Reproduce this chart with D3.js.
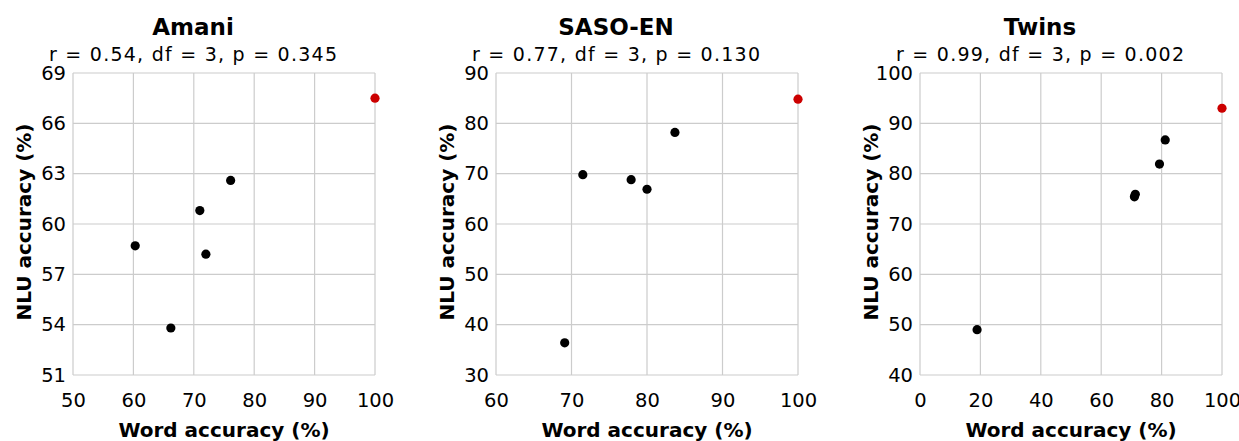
<!DOCTYPE html>
<html>
<head>
<meta charset="utf-8">
<script src="https://cdnjs.cloudflare.com/ajax/libs/d3/7.8.5/d3.min.js"></script>
<style>
  body { margin: 0; background: #fff; }
  svg text { font-family: "DejaVu Sans", sans-serif; fill: #000; }
</style>
</head>
<body>
<svg id="chart" width="1239" height="441"></svg>
<script>
// ---- data ----
var titles = ["Amani", "SASO-EN", "Twins"];
var stats = ["r = 0.54, df = 3, p = 0.345", "r = 0.77, df = 3, p = 0.130", "r = 0.99, df = 3, p = 0.002"];

var amaniWord = [76.1, 71.0, 60.3, 72.0, 66.2];
var amaniNlu  = [62.6, 60.8, 58.7, 58.2, 53.8];
var amaniRef  = [100, 67.5];

var sasoWord = [83.7, 71.5, 77.9, 80.0, 69.1];
var sasoNlu  = [78.2, 69.8, 68.8, 66.9, 36.4];
var sasoRef  = [100, 84.8];

var twinsWord = [81.2, 79.3, 71.0, 71.3, 18.9];
var twinsNlu  = [86.7, 81.9, 75.4, 75.9, 49.0];
var twinsRef  = [100, 93.0];

var xTicks = [[50, 60, 70, 80, 90, 100], [60, 70, 80, 90, 100], [0, 20, 40, 60, 80, 100]];
var yTicks = [[51, 54, 57, 60, 63, 66, 69], [30, 40, 50, 60, 70, 80, 90], [40, 50, 60, 70, 80, 90, 100]];

var panels = [
  {word: amaniWord, nlu: amaniNlu, ref: amaniRef},
  {word: sasoWord, nlu: sasoNlu, ref: sasoRef},
  {word: twinsWord, nlu: twinsNlu, ref: twinsRef}
];

var svg = d3.select("#chart");
var lefts = [73, 496, 920],
    top0 = 73, w = 302, h = 302;

panels.forEach(function(p, i) {
  var xt = xTicks[i], yt = yTicks[i];
  var x = d3.scaleLinear().domain([xt[0], xt[xt.length - 1]]).range([0, w]);
  var y = d3.scaleLinear().domain([yt[0], yt[yt.length - 1]]).range([h, 0]);

  var g = svg.append("g").attr("transform", "translate(" + lefts[i] + "," + top0 + ")");

  // grid
  g.append("g").selectAll("line").data(xt).enter().append("line")
    .attr("x1", function(d) { return x(d); }).attr("x2", function(d) { return x(d); })
    .attr("y1", 0).attr("y2", h)
    .attr("stroke", "#cccccc").attr("stroke-width", 1.2);
  g.append("g").selectAll("line").data(yt).enter().append("line")
    .attr("y1", function(d) { return y(d); }).attr("y2", function(d) { return y(d); })
    .attr("x1", 0).attr("x2", w)
    .attr("stroke", "#cccccc").attr("stroke-width", 1.2);

  // axes (labels only)
  var xa = g.append("g").attr("transform", "translate(0," + h + ")")
    .call(d3.axisBottom(x).tickValues(xt).tickSize(0).tickPadding(13));
  var ya = g.append("g")
    .call(d3.axisLeft(y).tickValues(yt).tickSize(0).tickPadding(7));
  [xa, ya].forEach(function(a) {
    a.select(".domain").remove();
    a.selectAll("text").style("font-size", "19.5px").style("font-family", "DejaVu Sans, sans-serif");
  });
  xa.selectAll("text").attr("dy", "0.95em");

  // points
  g.append("g").selectAll("circle").data(p.word).enter().append("circle")
    .attr("cx", function(d) { return x(d); })
    .attr("cy", function(d, j) { return y(p.nlu[j]); })
    .attr("r", 4.6).attr("fill", "#000");
  g.append("circle")
    .attr("cx", x(p.ref[0])).attr("cy", y(p.ref[1]))
    .attr("r", 4.6).attr("fill", "#cc0000");

  // titles
  g.append("text").attr("x", w / 2 - 31).attr("y", -38)
    .attr("text-anchor", "middle").style("font-size", "23px").style("font-weight", "bold")
    .text(titles[i]);
  g.append("text").attr("x", w / 2 - 31).attr("y", -12)
    .attr("text-anchor", "middle").style("font-size", "19px")
    .attr("textLength", 288).attr("lengthAdjust", "spacing")
    .text(stats[i]);

  g.append("text").attr("x", w / 2).attr("y", h + 62)
    .attr("text-anchor", "middle").style("font-size", "20px").style("font-weight", "bold")
    .text("Word accuracy (%)");
  g.append("text")
    .attr("transform", "translate(" + (-42) + "," + (h / 2 - 2) + ") rotate(-90)")
    .attr("text-anchor", "middle").style("font-size", "20px").style("font-weight", "bold")
    .text("NLU accuracy (%)");
});
</script>
</body>
</html>
